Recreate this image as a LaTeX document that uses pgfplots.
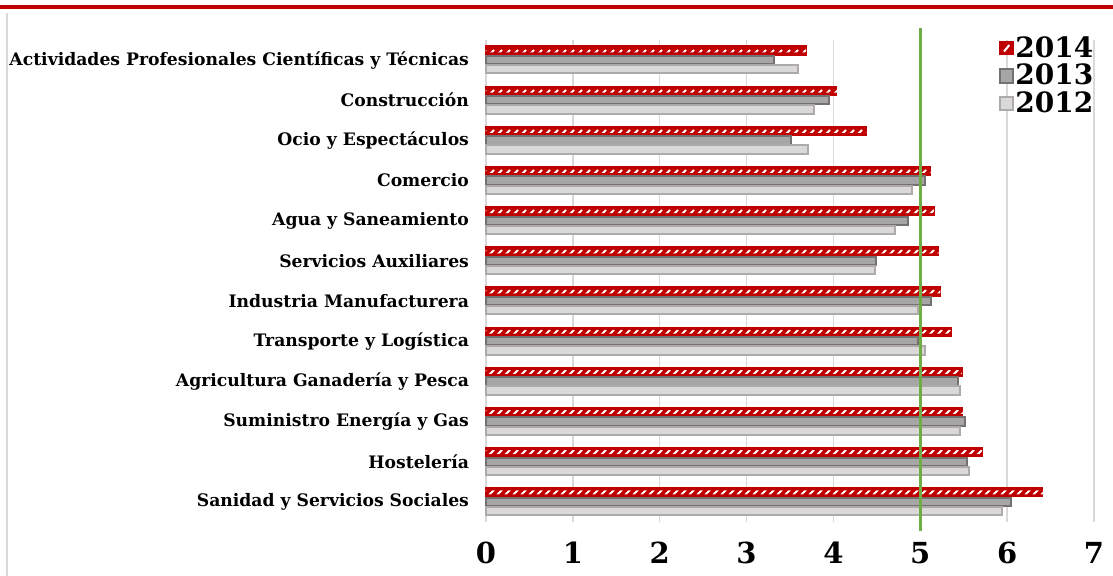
\documentclass[border=0pt]{standalone}
\usepackage{fontspec}
\setmainfont{Liberation Serif}
\newfontfamily\dvs{DejaVu Serif}
\usepackage{pgfplots}
\pgfplotsset{compat=1.18}
\usepackage{pgfplotstable}
\usetikzlibrary{patterns.meta}
\definecolor{red7}{HTML}{C00000}
\definecolor{g13f}{HTML}{A6A6A6}
\definecolor{g13d}{HTML}{767171}
\definecolor{g12f}{HTML}{D9D9D9}
\definecolor{g12d}{HTML}{AEAAAA}
\definecolor{grn}{HTML}{70AD47}
\definecolor{gridc}{HTML}{D9D9D9}
\tikzdeclarepattern{name=slashes, type=uncolored,
  bounding box={(0pt,0pt) and (4pt,4pt)},
  tile size={(4pt,4pt)},
  code={\draw[line width=1pt] (0.6pt,0.6pt) -- (3.4pt,3.4pt);}}
\pgfplotstableread{
y v14 v13 v12
0 6.41 6.04 5.94
1 5.71 5.54 5.56
2 5.49 5.52 5.46
3 5.48 5.43 5.46
4 5.36 4.97 5.06
5 5.23 5.12 4.97
6 5.21 4.49 4.48
7 5.16 4.86 4.71
8 5.12 5.06 4.90
9 4.38 3.51 3.71
10 4.04 3.95 3.78
11 3.69 3.32 3.59
}\datatable
\begin{document}
\begin{tikzpicture}
\path[use as bounding box] (-243pt,-27pt) rectangle (313.5pt,261pt);
\draw[red7, line width=2pt] (-243pt,257.5pt) -- (313.5pt,257.5pt);
\draw[gridc, line width=0.9pt] (-239.5pt,-27pt) -- (-239.5pt,254.5pt);
\begin{axis}[
  at={(0,0)}, anchor=south west,
  scale only axis, width=304pt, height=241pt,
  xmin=0, xmax=7, ymin=-0.5, ymax=11.5,
  axis line style={draw=none},
  xmajorgrids, grid style={gridc, line width=0.75pt},
  major tick length=0pt,
  xtick={0,...,7}, xticklabels={0,1,2,3,4,5,6,7},
  xticklabel style={font=\dvs\bfseries\fontsize{14.5}{16}\selectfont, yshift=-6.5pt},
  ytick={0,...,11},
  yticklabels={Sanidad y Servicios Sociales, Hostelería, Suministro Energía y Gas, Agricultura Ganadería y Pesca, Transporte y Logística, Industria Manufacturera, Servicios Auxiliares, Agua y Saneamiento, Comercio, Ocio y Espectáculos, Construcción, Actividades Profesionales Científicas y Técnicas},
  yticklabel style={font=\dvs\bfseries\fontsize{8.6}{10}\selectfont, xshift=-5pt},
  clip=false,
  legend image code/.code={\draw[#1] (0pt,-3.3pt) rectangle (6.6pt,3.3pt);},
  legend style={draw=none, fill=none, at={(1,1)}, anchor=north east, yshift=5pt, xshift=3.5pt,
    font=\dvs\bfseries\fontsize{14}{14}\selectfont, row sep=0pt,
    nodes={inner xsep=0.6pt, inner ysep=1pt}},
  legend cell align=left,
]
\addplot[xbar, bar width=4.5pt, bar shift=4.8pt, fill=red7, draw=red7, line width=0.6pt,
  legend image code/.code={\draw[fill=red7, draw=red7] (0pt,-3.3pt) rectangle (6.6pt,3.3pt);
    \draw[white, line width=1pt] (2pt,-1.6pt) -- (4.6pt,1.6pt);}]
  table[x=v14, y=y] {\datatable};
\addlegendentry{2014}
\addplot[xbar, bar width=4.2pt, bar shift=0pt, fill=g13f, draw=g13d, line width=1pt]
  table[x=v13, y=y] {\datatable};
\addlegendentry{2013}
\addplot[xbar, bar width=4.2pt, bar shift=-4.6pt, fill=g12f, draw=g12d, line width=1pt]
  table[x=v12, y=y] {\datatable};
\addlegendentry{2012}
\addplot[xbar, forget plot, bar width=2pt, bar shift=4.8pt, draw=none, pattern={slashes}, pattern color=white]
  table[x=v14, y=y] {\datatable};
\addplot[grn, line width=1.7pt, forget plot] coordinates {(5,-0.72) (5,11.8)};
\end{axis}
\end{tikzpicture}
\end{document}
